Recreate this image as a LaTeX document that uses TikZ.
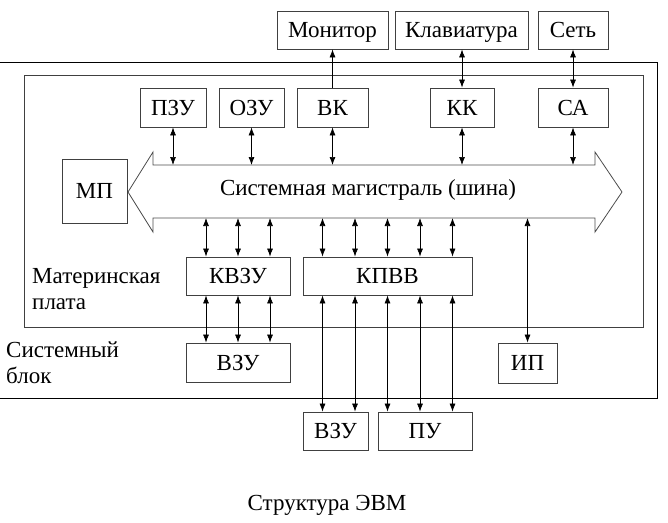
\documentclass[tikz,border=0pt]{standalone}
\usepackage{fontspec}
\setmainfont{Liberation Serif}
\usetikzlibrary{arrows.meta}

\begin{document}
\begin{tikzpicture}[x=1pt,y=-1pt,>={Latex[length=8pt,width=6pt]},
	block/.style={draw=black!75,line width=0.8pt,inner sep=0pt,
		minimum height=38pt,text height=15pt,text depth=0pt,
		font=\fontsize{23}{26}\selectfont},
	lbl/.style={inner sep=0pt,align=left,font=\fontsize{23}{26}\selectfont},
	link/.style={<->,line width=0.7pt}]
\useasboundingbox (0,0) rectangle (668,522);

% Systemblock und Hauptplatine
\draw[line width=1pt] (-5,62) rectangle (657,398);
\draw[black!75,line width=0.8pt] (24,75) rectangle (643,327);

% Peripherie oben
\node[block,minimum width=111pt] (mon) at (332.5,30) {Монитор};
\node[block,minimum width=133pt] (kbd) at (461.5,30) {Клавиатура};
\node[block,minimum width=70pt] (net) at (573,30) {Сеть};

% Bausteine auf der Platine
\node[block,minimum width=66pt,minimum height=39pt] (pzu) at (173,107.5) {ПЗУ};
\node[block,minimum width=65pt,minimum height=39pt] (ozu) at (251.5,107.5) {ОЗУ};
\node[block,minimum width=71pt,minimum height=39pt] (vk) at (332.5,107.5) {ВК};
\node[block,minimum width=64pt,minimum height=39pt] (kk) at (462,107.5) {КК};
\node[block,minimum width=70pt,minimum height=39pt] (sa) at (573,107.5) {СА};
\node[block,minimum width=65pt,minimum height=64pt] (mp) at (94.5,191) {МП};

% Bus
\draw[black!70,line width=0.8pt]
	(128,192) -- (153,152) -- (153,165) -- (595,165) -- (595,152)
	-- (622,192) -- (595,232) -- (595,218) -- (153,218) -- (153,232) -- cycle;
\coordinate (bustop) at (370,165);
\coordinate (busbot) at (370,218);
\node[lbl] (bus) at (368,190) {Системная магистраль (шина)};

\node[block,minimum width=104pt] (kvzu) at (238,276) {КВЗУ};
\node[block,minimum width=169pt] (kpvv) at (387.5,276) {КПВВ};
\node[block,minimum width=104pt,minimum height=39pt] (vzu) at (238,362.5) {ВЗУ};
\node[block,minimum width=59pt,minimum height=40pt] (ip) at (527.5,363) {ИП};

% Peripherie unten
\node[block,minimum width=65pt] (vzuext) at (335.5,431) {ВЗУ};
\node[block,minimum width=94pt] (pu) at (425,431) {ПУ};

\node[lbl,anchor=west] (mb) at (32,289) {Материнская\\плата};
\node[lbl,anchor=west] (sb) at (6,363) {Системный\\блок};
\node[lbl] (title) at (327,505) {Структура ЭВМ};

% Verbindungen
\foreach \u in {pzu,ozu,vk,kk,sa}
	\draw[link] (\u.south) -- (\u.south |- bustop);
\draw[->,line width=0.7pt] (vk.north) -- (mon.south);
\draw[link] (kk.north) -- (kk.north |- kbd.south);
\draw[link] (sa.north) -- (sa.north |- net.south);

\foreach \dx in {-32,0,32} {
	\draw[link] ([xshift=\dx pt]kvzu.north) -- ([xshift=\dx pt]kvzu.north |- busbot);
	\draw[link] ([xshift=\dx pt]kvzu.south) -- ([xshift=\dx pt]kvzu.south |- vzu.north);
}
\foreach \dx/\to in {-65/vzuext,-32.5/vzuext,0/pu,32.5/pu,65/pu} {
	\draw[link] ([xshift=\dx pt]kpvv.north) -- ([xshift=\dx pt]kpvv.north |- busbot);
	\draw[link] ([xshift=\dx pt]kpvv.south) -- ([xshift=\dx pt]kpvv.south |- \to.north);
}
\draw[link] (ip.north) -- (ip.north |- busbot);

\end{tikzpicture}
\end{document}
